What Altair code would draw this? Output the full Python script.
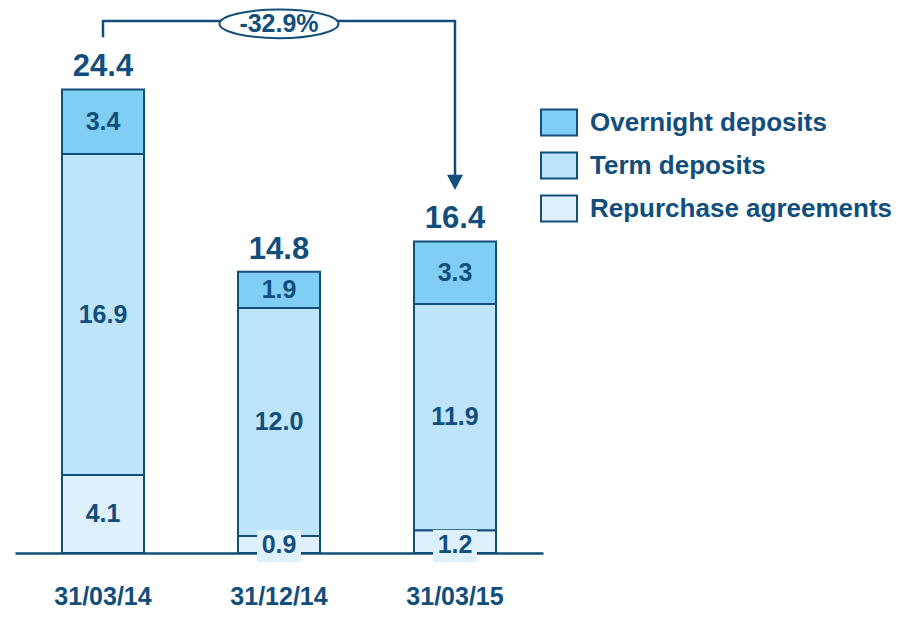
import altair as alt
import pandas as pd

# ---- data ----
dates = ["31/03/14", "31/12/14", "31/03/15"]
series = ["Overnight deposits", "Term deposits", "Repurchase agreements"]
overnight = [3.4, 1.9, 3.3]
term = [16.9, 12.0, 11.9]
repo = [4.1, 0.9, 1.2]
totals = [24.4, 14.8, 16.4]
change_text = "-32.9%"

# ---- styling ----
colors = ["#80cef3", "#bde4f8", "#def0fc"]
DARK = "#124e7c"
FONT = "Liberation Sans"

rows = []
for i, d in enumerate(dates):
    base = 0.0
    for s, vals, order in [(series[2], repo, 1), (series[1], term, 2), (series[0], overnight, 3)]:
        v = vals[i]
        rows.append(dict(date=d, series=s, value=v, order=order, mid=base + v / 2,
                         small=bool(v < 1.5), label=f"{v:.1f}"))
        base += v
seg = pd.DataFrame(rows)
tot = pd.DataFrame(dict(date=dates, total=totals, label=[f"{t:.1f}" for t in totals]))

level = max(totals) + 3.6
bracket = pd.DataFrame(dict(
    date=[dates[0], dates[0], dates[2], dates[2]],
    y=[totals[0] + 2.75, level, level, totals[2] + 3.5],
    o=[0, 1, 2, 3]))
arrow_df = pd.DataFrame(dict(date=[dates[2]], y=[totals[2] + 3.13]))
pct_df = pd.DataFrame(dict(date=[dates[1]], y=[level - 0.15], label=[change_text]))

x = alt.X("date:N", sort=dates, title=None,
          scale=alt.Scale(paddingInner=0, paddingOuter=0),
          axis=alt.Axis(labelAngle=0, ticks=False, domain=True, domainColor=DARK,
                        domainWidth=2.5, labelFont=FONT, labelFontSize=25,
                        labelFontWeight="bold", labelColor=DARK, labelPadding=51,
                        labelBaseline="alphabetic", grid=False))
yscale = alt.Scale(domain=[0, 28.5], nice=False, zero=True)

bars = alt.Chart(seg).mark_bar(size=82, stroke=DARK, strokeWidth=2).encode(
    x=x,
    y=alt.Y("value:Q", stack="zero", scale=yscale, axis=None),
    color=alt.Color("series:N", scale=alt.Scale(domain=series, range=colors),
                    legend=alt.Legend(title=None, orient="none", legendX=525, legendY=92,
                                      symbolType="M-1,-0.722L1,-0.722L1,0.722L-1,0.722Z",
                                      symbolSize=1296, symbolStrokeColor=DARK,
                                      symbolStrokeWidth=2, symbolOpacity=1,
                                      labelFont=FONT, labelFontSize=26,
                                      labelFontWeight="bold", labelColor=DARK,
                                      labelOffset=12, rowPadding=7, padding=0,
                                      labelLimit=400)),
    order=alt.Order("order:Q"),
)

seg_text = alt.Chart(seg).transform_filter("!datum.small").mark_text(
    font=FONT, fontSize=25, fontWeight="bold", color=DARK, baseline="middle"
).encode(x=x, y=alt.Y("mid:Q", scale=yscale), text="label:N")

small_box = alt.Chart(seg).transform_filter("datum.small").mark_point(
    shape="M-1,-0.727L1,-0.727L1,0.727L-1,0.727Z", size=1936, filled=True,
    fill=colors[2], opacity=1, strokeWidth=0, yOffset=-7
).encode(x=x, y=alt.Y(datum=0, scale=yscale))

small_text = alt.Chart(seg).transform_filter("datum.small").mark_text(
    font=FONT, fontSize=25, fontWeight="bold", color=DARK, baseline="middle", dy=-8
).encode(x=x, y=alt.Y(datum=0, scale=yscale), text="label:N")

tot_text = alt.Chart(tot).mark_text(
    font=FONT, fontSize=31, fontWeight="bold", color=DARK, baseline="alphabetic", dy=-13
).encode(x=x, y=alt.Y("total:Q", scale=yscale), text="label:N")

line = alt.Chart(bracket).mark_line(color=DARK, strokeWidth=2.5).encode(
    x=x, y=alt.Y("y:Q", scale=yscale), order="o:Q")

arrow = alt.Chart(arrow_df).mark_point(
    shape="M-1,-0.9L1,-0.9L0,1Z", size=256, filled=True, fill=DARK, opacity=1, strokeWidth=0
).encode(x=x, y=alt.Y("y:Q", scale=yscale))

ellipse = alt.Chart(pct_df).mark_point(
    shape="M -1 0 A 1 0.24 0 1 1 1 0 A 1 0.24 0 1 1 -1 0 Z", size=14161, filled=True,
    fill="white", stroke=DARK, strokeWidth=2, opacity=1
).encode(x=x, y=alt.Y("y:Q", scale=yscale))

pct = alt.Chart(pct_df).mark_text(
    font=FONT, fontSize=25, fontWeight="bold", color=DARK, baseline="middle"
).encode(x=x, y=alt.Y("y:Q", scale=yscale), text="label:N")

chart = alt.layer(bars, seg_text, small_box, small_text, tot_text, line, arrow, ellipse, pct).properties(
    width=528, height=541.5,
    padding={"left": 7, "top": 3.5, "right": 348, "bottom": 57},
    autosize=alt.AutoSizeParams(type="none"),
).configure_view(stroke=None)

chart.save("out.html", embed_options={"renderer": "svg", "actions": False})
